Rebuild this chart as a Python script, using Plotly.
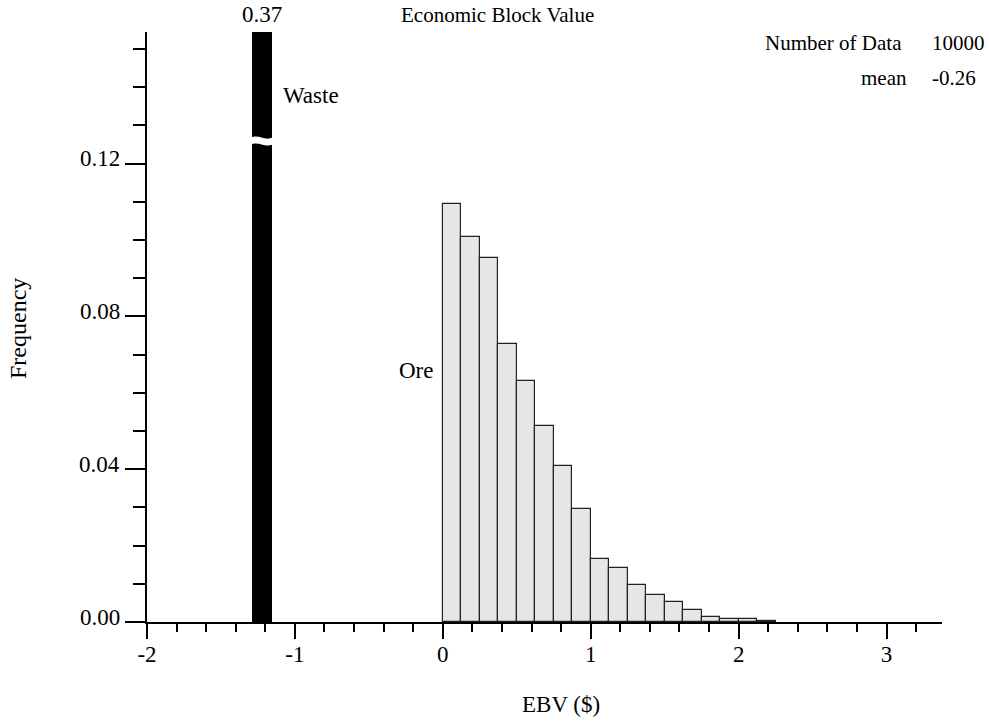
import plotly.graph_objects as go

# Histogram of economic block value (EBV, $)
bin_width = 0.125
ore_left_edges = [i * bin_width for i in range(18)]
ore_freq = [0.1093, 0.1008, 0.0953, 0.0729, 0.0631, 0.0514, 0.0408, 0.0296, 0.0164,
            0.0141, 0.0097, 0.0071, 0.0052, 0.0032, 0.0014, 0.0008, 0.0008, 0.0003]

waste_center = -1.225
waste_width = 0.135
waste_freq = 0.37

x_tick_vals = [-2, -1, 0, 1, 2, 3]
x_tick_text = ["-2", "-1", "0", "1", "2", "3"]
y_tick_vals = [0.0, 0.04, 0.08, 0.12]
y_tick_text = ["0.00", "0.04", "0.08", "0.12"]

n_data = 10000
mean_value = -0.26

X_RANGE = [-2, 3.375]
Y_RANGE = [0, 0.15445]

W, H = 989, 721
M_L, M_R, M_T, M_B = 147, 47, 32, 99
PLOT_W = W - M_L - M_R
PLOT_H = H - M_T - M_B
FONT = "'Liberation Serif', 'Times New Roman', Times, serif"


def px(p):
    return (p - M_L) / PLOT_W


def py(p):
    return (H - M_B - p) / PLOT_H


fig = go.Figure()

fig.add_trace(go.Bar(
    x=[e + bin_width / 2 for e in ore_left_edges],
    y=ore_freq,
    width=bin_width,
    marker=dict(color="#e6e6e6", line=dict(color="#222222", width=1.2)),
    showlegend=False,
    hoverinfo="x+y",
))

fig.add_trace(go.Bar(
    x=[waste_center],
    y=[waste_freq],
    width=waste_width,
    marker=dict(color="black", line=dict(color="black", width=0)),
    showlegend=False,
    hoverinfo="x+y",
))

# break mark on the clipped waste bar
yb, h, a = 0.1259, 0.0009, 0.0005
x0 = waste_center - waste_width / 2 - 0.006
x1 = waste_center + waste_width / 2 + 0.006
w = x1 - x0
brk = (f"M {x0},{yb + h} C {x0 + 0.4 * w},{yb + h + 2 * a} {x0 + 0.6 * w},{yb + h - 2 * a} {x1},{yb + h} "
       f"L {x1},{yb - h} C {x0 + 0.6 * w},{yb - h - 2 * a} {x0 + 0.4 * w},{yb - h + 2 * a} {x0},{yb - h} Z")
fig.add_shape(type="path", path=brk, xref="x", yref="y",
              fillcolor="white", line=dict(width=0), layer="above")

annotations = []


def text(x, y, s, size, xanchor="center", xref="paper", yref="paper", **kw):
    annotations.append(dict(x=x, y=y, text=s, xref=xref, yref=yref, showarrow=False,
                            xanchor=xanchor, yanchor="middle",
                            font=dict(family=FONT, size=size, color="black"), **kw))


text(px(399), py(15), "Economic Block Value", 21, xanchor="left")
text(waste_center, py(14), f"{waste_freq:.2f}", 23, xref="x")
text(waste_center + waste_width / 2, py(96), "Waste", 23, xanchor="left", xref="x", xshift=9)
text(0, py(370), "Ore", 23, xanchor="right", xref="x", xshift=-8)
text(px(904.3), py(43), "Number of Data", 21, xanchor="right")
text(px(930), py(43), f"{n_data}", 21, xanchor="left")
text(px(909.3), py(78), "mean", 21, xanchor="right")
text(px(930), py(78), f"{mean_value:.2f}", 21, xanchor="left")
text(px(561), py(704), "EBV ($)", 23)
text(px(18), py(329), "Frequency", 24, textangle=-90)

for v, s in zip(y_tick_vals, y_tick_text):
    annotations.append(dict(x=0, y=v, xref="paper", yref="y", text=s, showarrow=False,
                            xanchor="right", yanchor="middle", xshift=-25, yshift=5,
                            font=dict(family=FONT, size=23, color="black")))

fig.update_layout(
    width=W, height=H,
    margin=dict(l=M_L, r=M_R, t=M_T, b=M_B, pad=0),
    paper_bgcolor="white", plot_bgcolor="white",
    bargap=0, barmode="overlay",
    font=dict(family=FONT, size=23, color="black"),
    annotations=annotations,
    xaxis=dict(
        range=X_RANGE, showgrid=False, zeroline=False,
        showline=True, linecolor="black", linewidth=2,
        tickmode="array", tickvals=x_tick_vals, ticktext=x_tick_text,
        ticks="outside", ticklen=15, tickwidth=2, tickcolor="black",
        ticklabelstandoff=-5,
        tickfont=dict(family=FONT, size=23, color="black"),
        minor=dict(dtick=0.2, tick0=0, ticks="outside", ticklen=8, tickwidth=2, tickcolor="black"),
    ),
    yaxis=dict(
        range=Y_RANGE, showgrid=False, zeroline=False,
        showline=True, linecolor="black", linewidth=2,
        tickmode="array", tickvals=y_tick_vals, showticklabels=False,
        ticks="outside", ticklen=20, tickwidth=2, tickcolor="black",
        minor=dict(dtick=0.01, tick0=0, ticks="outside", ticklen=12, tickwidth=2, tickcolor="black"),
    ),
)

fig.write_html("out.html")
